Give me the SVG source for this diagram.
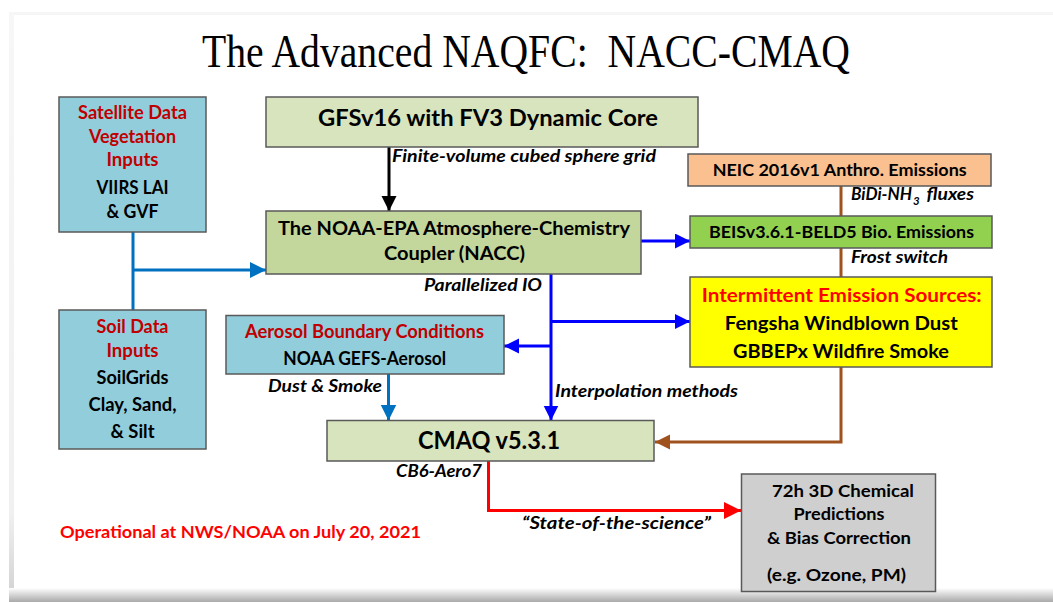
<svg xmlns="http://www.w3.org/2000/svg" width="1053" height="602" viewBox="0 0 1053 602">
<defs>
<linearGradient id="gBottom" x1="0" y1="0" x2="0" y2="1">
<stop offset="0" stop-color="#ffffff"/>
<stop offset="1" stop-color="#a9a9a9"/>
</linearGradient>
<linearGradient id="gLeft" x1="0" y1="0" x2="0" y2="1">
<stop offset="0" stop-color="#f7f7f7"/>
<stop offset="0.85" stop-color="#f0f0f0"/>
<stop offset="1" stop-color="#d0d0d0"/>
</linearGradient>
<marker id="aBlack" markerUnits="userSpaceOnUse" markerWidth="16" markerHeight="16" refX="15" refY="7.5" orient="auto"><path d="M0,0 L15,7.5 L0,15 z" fill="#000000"/></marker>
<marker id="aBlue" markerUnits="userSpaceOnUse" markerWidth="16" markerHeight="16" refX="15" refY="7.5" orient="auto"><path d="M0,0 L15,7.5 L0,15 z" fill="#0000ff"/></marker>
<marker id="aSteel" markerUnits="userSpaceOnUse" markerWidth="17" markerHeight="17" refX="16" refY="8" orient="auto"><path d="M0,0 L16,8 L0,16 z" fill="#0070c0"/></marker>
<marker id="aBrown" markerUnits="userSpaceOnUse" markerWidth="16" markerHeight="16" refX="15" refY="7.5" orient="auto"><path d="M0,0 L15,7.5 L0,15 z" fill="#a0521e"/></marker>
<marker id="aRed" markerUnits="userSpaceOnUse" markerWidth="18" markerHeight="18" refX="17" refY="8.5" orient="auto"><path d="M0,0 L17,8.5 L0,17 z" fill="#ff0000"/></marker>
</defs>
<style>
.box{stroke:#595959;stroke-width:1.5}
.t{font-family:Lato,"Open Sans","Liberation Sans",sans-serif;font-weight:bold;fill:#000;text-anchor:middle}
.red{fill:#c00000}
.lbl{font-family:Lato,"Open Sans","Liberation Sans",sans-serif;font-weight:bold;font-style:italic;font-size:16.5px;fill:#000}
.c{fill:none;stroke-width:3}
</style>
<rect x="0" y="0" width="1053" height="602" fill="#ffffff"/>
<g id="frame">
<rect x="9" y="12" width="1044" height="3" fill="#f5f5f5"/>
<rect x="9" y="12" width="5" height="590" fill="url(#gLeft)"/>
<rect x="9" y="588" width="1044" height="14" fill="url(#gBottom)"/>
</g>
<text x="202" y="67" font-family="Liberation Serif,Times New Roman,serif" font-size="47" textLength="648" lengthAdjust="spacingAndGlyphs" style="white-space:pre" fill="#000">The Advanced NAQFC:  NACC-CMAQ</text>

<g id="connectors">
<line class="c" x1="133" y1="232" x2="133" y2="310" stroke="#0070c0"/>
<line class="c" x1="133" y1="270" x2="266" y2="270" stroke="#0070c0" marker-end="url(#aSteel)"/>
<line class="c" x1="389" y1="147" x2="389" y2="211" stroke="#000" marker-end="url(#aBlack)"/>
<line class="c" x1="641" y1="241" x2="690" y2="241" stroke="#0000ff" marker-end="url(#aBlue)"/>
<line class="c" x1="551" y1="274" x2="551" y2="420.5" stroke="#0000ff" marker-end="url(#aBlue)"/>
<line class="c" x1="551" y1="321.5" x2="690" y2="321.5" stroke="#0000ff" marker-end="url(#aBlue)"/>
<line class="c" x1="551" y1="346" x2="504" y2="346" stroke="#0000ff" marker-end="url(#aBlue)"/>
<line class="c" x1="388.5" y1="374" x2="388.5" y2="420.5" stroke="#0070c0" marker-end="url(#aSteel)"/>
<path class="c" d="M841,186 V442 H655" stroke="#a0521e" stroke-width="3.5" marker-end="url(#aBrown)"/>
<path class="c" d="M488.5,461 V510.5 H741" stroke="#ff0000" stroke-width="4" marker-end="url(#aRed)"/>
</g>

<g id="satellite">
<rect class="box" x="59" y="97" width="147" height="135" fill="#92cddc"/>
<text class="t red" x="132.5" y="119" font-size="18" textLength="109" lengthAdjust="spacingAndGlyphs">Satellite Data</text>
<text class="t red" x="132.5" y="142.5" font-size="18" textLength="87" lengthAdjust="spacingAndGlyphs">Vegetation</text>
<text class="t red" x="132.5" y="166" font-size="18" textLength="52" lengthAdjust="spacingAndGlyphs">Inputs</text>
<text class="t" x="132.5" y="194" font-size="18" textLength="72" lengthAdjust="spacingAndGlyphs">VIIRS LAI</text>
<text class="t" x="132.5" y="218" font-size="18" textLength="52" lengthAdjust="spacingAndGlyphs">&amp; GVF</text>
</g>
<g id="soil">
<rect class="box" x="59" y="310" width="147" height="139" fill="#92cddc"/>
<text class="t red" x="132.5" y="333" font-size="18" textLength="72" lengthAdjust="spacingAndGlyphs">Soil Data</text>
<text class="t red" x="132.5" y="357" font-size="18" textLength="52" lengthAdjust="spacingAndGlyphs">Inputs</text>
<text class="t" x="132.5" y="384" font-size="18" textLength="72" lengthAdjust="spacingAndGlyphs">SoilGrids</text>
<text class="t" x="132.5" y="411" font-size="18" textLength="88" lengthAdjust="spacingAndGlyphs">Clay, Sand,</text>
<text class="t" x="132.5" y="438" font-size="18" textLength="44" lengthAdjust="spacingAndGlyphs">&amp; Silt</text>
</g>
<g id="gfs">
<rect class="box" x="266" y="97" width="432" height="50" fill="#d7e4bd"/>
<text class="t" x="488" y="126" font-size="22.5" textLength="340" lengthAdjust="spacingAndGlyphs">GFSv16 with FV3 Dynamic Core</text>
</g>
<g id="nacc">
<rect class="box" x="266" y="211" width="375" height="63" fill="#c3d69b"/>
<text class="t" x="454" y="235" font-size="19.5" textLength="352" lengthAdjust="spacingAndGlyphs">The NOAA-EPA Atmosphere-Chemistry</text>
<text class="t" x="454.5" y="260" font-size="19.5" textLength="141" lengthAdjust="spacingAndGlyphs">Coupler (NACC)</text>
</g>
<g id="neic">
<rect class="box" x="688" y="154" width="303" height="32" fill="#fac090"/>
<text class="t" x="839.7" y="176" font-size="17.5" textLength="254" lengthAdjust="spacingAndGlyphs">NEIC 2016v1 Anthro. Emissions</text>
</g>
<g id="beis">
<rect class="box" x="690" y="216" width="302" height="32" fill="#92d050"/>
<text class="t" x="841.5" y="237.5" font-size="17.5" textLength="265" lengthAdjust="spacingAndGlyphs">BEISv3.6.1-BELD5 Bio. Emissions</text>
</g>
<g id="intermittent">
<rect class="box" x="690" y="277" width="302" height="90" fill="#ffff00"/>
<text class="t" x="841.7" y="301.5" font-size="19.5" style="fill:#ff0000" textLength="280" lengthAdjust="spacingAndGlyphs">Intermittent Emission Sources:</text>
<text class="t" x="841.3" y="330" font-size="19.5" textLength="233" lengthAdjust="spacingAndGlyphs">Fengsha Windblown Dust</text>
<text class="t" x="841" y="358" font-size="19.5" textLength="216" lengthAdjust="spacingAndGlyphs">GBBEPx Wildfire Smoke</text>
</g>
<g id="aerosol">
<rect class="box" x="226" y="315.5" width="278" height="58.5" fill="#92cddc"/>
<text class="t red" x="364.5" y="337.5" font-size="18" textLength="239" lengthAdjust="spacingAndGlyphs">Aerosol Boundary Conditions</text>
<text class="t" x="364.7" y="365" font-size="18" textLength="163" lengthAdjust="spacingAndGlyphs">NOAA GEFS-Aerosol</text>
</g>
<g id="cmaq">
<rect class="box" x="327" y="420.5" width="327" height="40.5" fill="#d7e4bd"/>
<text class="t" x="489" y="449" font-size="25" textLength="142" lengthAdjust="spacingAndGlyphs">CMAQ v5.3.1</text>
</g>
<g id="predictions">
<rect class="box" x="741.5" y="474" width="194" height="117.5" fill="#cfcfcf"/>
<text class="t" x="843" y="497" font-size="17.5" textLength="142" lengthAdjust="spacingAndGlyphs">72h 3D Chemical</text>
<text class="t" x="839" y="520" font-size="17.5" textLength="91" lengthAdjust="spacingAndGlyphs">Predictions</text>
<text class="t" x="839" y="544" font-size="17.5" textLength="144" lengthAdjust="spacingAndGlyphs">&amp; Bias Correction</text>
<text class="t" x="836.5" y="580.5" font-size="17.5" textLength="139" lengthAdjust="spacingAndGlyphs">(e.g. Ozone, PM)</text>
</g>
<g id="labels">
<text class="lbl" x="392" y="162" textLength="264" lengthAdjust="spacingAndGlyphs">Finite-volume cubed sphere grid</text>
<text class="lbl" x="851" y="200" textLength="61" lengthAdjust="spacingAndGlyphs">BiDi-NH</text>
<text class="lbl" x="913" y="204.5" font-size="11.5px" style="font-size:11.5px">3</text>
<text class="lbl" x="926.5" y="200" textLength="47.5" lengthAdjust="spacingAndGlyphs">fluxes</text>
<text class="lbl" x="851" y="263" textLength="97" lengthAdjust="spacingAndGlyphs">Frost switch</text>
<text class="lbl" x="424" y="290.5" textLength="118" lengthAdjust="spacingAndGlyphs">Parallelized IO</text>
<text class="lbl" x="268" y="391.5" textLength="114" lengthAdjust="spacingAndGlyphs">Dust &amp; Smoke</text>
<text class="lbl" x="555" y="396.5" textLength="183" lengthAdjust="spacingAndGlyphs">Interpolation methods</text>
<text class="lbl" x="396" y="477" textLength="86" lengthAdjust="spacingAndGlyphs">CB6-Aero7</text>
<text class="lbl" x="522" y="529" textLength="189" lengthAdjust="spacingAndGlyphs">“State-of-the-science”</text>
<text x="60" y="538" font-family="Lato,'Open Sans','Liberation Sans',sans-serif" font-weight="bold" font-size="17" fill="#ff0000" textLength="361" lengthAdjust="spacingAndGlyphs">Operational at NWS/NOAA on July 20, 2021</text>
</g>
</svg>
